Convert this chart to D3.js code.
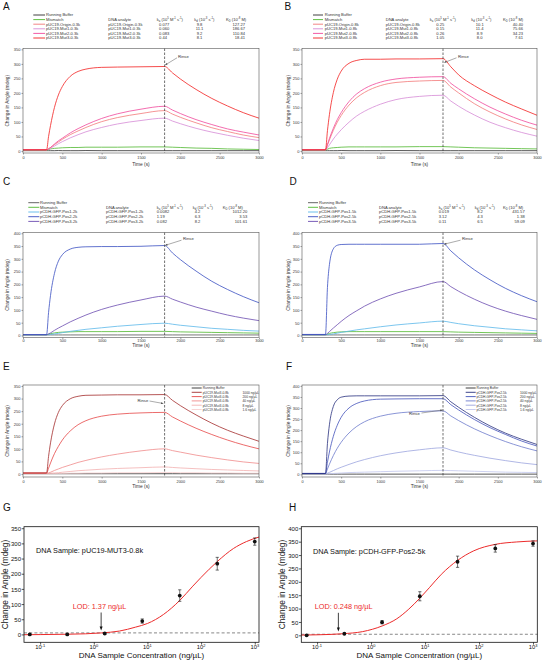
<!DOCTYPE html>
<html><head><meta charset="utf-8">
<script src="https://cdn.jsdelivr.net/npm/d3@7"></script>
<style>body{margin:0;background:#fff}svg{display:block}</style>
</head><body>
<svg id="chart" width="546" height="661" xmlns="http://www.w3.org/2000/svg"></svg>
<script>
// ================= DATA =================
const T = [0,300,325,350,400,450,500,600,700,800,1000,1200,1500,1800,1900,2000,2200,2400,2600,2800,3000];
const timeTicks = [0,500,1000,1500,2000,2500,3000];
const yTicks350 = [0,50,100,150,200,250,300,350];
const yTicks400 = [0,50,100,150,200,250,300,350,400];

// Panel A
const aNames = ['Running Buffer','Mismatch','pUC19-Origin-0.3k','pUC19-Mut1-0.3k','pUC19-Mut2-0.3k','pUC19-Mut3-0.3k'];
const aRB   = [1,1,1,1,1,1.5,1,1,1,1.5,1,1,1,1,1,1,1,1,1,1,1];
const aMis  = [3,3,5,7,9,10,11,12,12,13,13,13,14,14,13,12,10,9,7,6,5];
const aOri  = [4,4,7,12,22,31,40,56,69,81,101,115,129,139,127,116,97,80,67,55,46];
const aMut1 = [4,4,6,9,17,25,32,45,56,66,81,93,105,113,103,94,78,65,54,44,36];
const aMut2 = [4,4,8,12,24,35,44,62,77,90,112,128,144,154,141,129,108,91,76,65,55];
const aMut3 = [4,4,50,88,150,193,222,257,274,282,288,289,290,291,269,248,212,181,155,132,113];
const aKa = ['0.077','0.060','0.083','0.44'];
const aKd = ['9.8','11.1','9.2','8.1'];
const aKD = ['127.27','186.67','110.84','18.41'];

// Panel B
const bNames = ['Running Buffer','Mismatch','pUC19-Origin-0.8k','pUC19-Mut1-0.8k','pUC19-Mut2-0.8k','pUC19-Mut3-0.8k'];
const bRB   = [1,1,1,1,1,1,1.5,1,1,1,1,1.5,1,1,1,1,1,1,1,1,1];
const bMis  = [3,3,6,9,11,12,13,14,14,14,14,14,15,15,14,13,11,10,9,8,7];
const bOri  = [4,4,20,38,71,99,122,158,184,202,225,236,241,243,220,200,163,134,110,90,74];
const bMut1 = [4,4,11,21,41,58,73,99,121,137,161,177,188,192,172,154,124,99,80,64,51];
const bMut2 = [4,4,23,43,78,108,132,170,197,215,237,248,254,256,233,214,180,151,127,106,89];
const bMut3 = [4,4,70,125,201,247,275,302,312,316,316,317,317,318,290,262,225,195,168,145,123];
const bKa = ['0.25','0.15','0.26','1.05'];
const bKd = ['10.1','11.4','8.9','8.0'];
const bKD = ['40.40','75.66','34.23','7.61'];

// Panel C
const cNames = ['Running Buffer','Mismatch','pCDH-GFP-Pos1-2k','pCDH-GFP-Pos2-2k','pCDH-GFP-Pos3-2k'];
const cRB   = [2,2,2,2,2,2,2,2,2,2,2,2,2,2,2,2,2,2,2,2,2];
const cMis  = [3,3,5,7,10,12,13,14,15,15,15,15,16,16,15,14,13,12,11,10,9];
const cPos1 = [3,3,3,4,6,8,11,16,20,24,30,36,43,48,44,40,34,28,24,20,17];
const cPos2 = [3,3,90,157,243,291,316,338,345,347,348,348,349,352,323,297,252,212,180,152,128];
const cPos3 = [3,3,6,10,20,29,37,53,67,80,102,119,139,154,142,131,111,95,80,68,58];
const cKa = ['0.0082','1.19','0.082'];
const cKd = ['4.2','6.3','8.2'];
const cKD = ['1012.20','3.53','101.61'];

// Panel D
const dNames = ['Running Buffer','Mismatch','pCDH-GFP-Pos1-5k','pCDH-GFP-Pos2-5k','pCDH-GFP-Pos3-5k'];
const dRB   = [2,2,2,2,2,2,2,2,2,2,2,2,2,2,2,2,2,2,2,2,2];
const dMis  = [3,3,5,8,11,13,14,15,15,15,15,15,15,15,14,13,12,11,10,9,8];
const dPos1 = [3,3,3,4,6,9,12,17,22,26,34,41,49,56,51,46,38,32,26,22,18];
const dPos2 = [4,4,188,277,339,353,356,357,357,357,357,357,357,360,331,304,257,218,184,156,132];
const dPos3 = [3,3,8,15,29,42,55,78,97,115,143,165,190,211,191,173,142,116,95,78,63];
const dKa = ['0.019','3.12','0.11'];
const dKd = ['8.2','4.3','6.5'];
const dKD = ['431.57','1.38','59.09'];

// Panel E
const concLabels = ['1000 ng/µL','200 ng/µL','40 ng/µL','8 ng/µL','1.6 ng/µL'];
const eSample = 'pUC19-Mut3-0.8k';
const eRB    = [1,1,1,1,1,1,1,1,1,1,1,1,1,1,1,1,1,1,1,1,1];
const e1000  = [4,4,70,124,199,245,272,299,309,313,314,315,315,316,293,272,235,202,174,151,130];
const e200   = [4,4,23,44,81,110,135,171,196,212,230,238,243,245,227,211,182,157,135,116,100];
const e40    = [3,3,4,7,14,20,26,36,46,54,68,79,92,100,93,87,75,65,56,48,42];
const e8     = [2,2,2,3,4,5,7,10,13,15,19,22,25,28,26,24,21,18,16,14,12];
const e16    = [1,1,1,1,2,2,2,3,3,4,4,5,5,6,6,5,5,4,4,3,3];

// Panel F
const fSample = 'pCDH-GFP-Pos2-5k';
const fRB    = [1,1,1,1,1,1,1,1,1,1,1,1,1,1,1,1,1,1,1,1,1];
const f1000  = [4,4,140,224,307,337,349,354,355,355,355,355,355,356,328,303,258,219,186,159,135];
const f200   = [4,4,55,101,172,222,258,300,321,332,340,341,342,342,315,291,248,211,180,151,128];
const f40    = [4,4,24,46,85,118,145,187,217,238,263,276,284,287,264,243,206,175,148,125,106];
const f8     = [3,3,5,9,17,25,32,45,57,67,84,97,111,120,110,101,86,73,62,52,44];
const f16    = [2,2,2,3,4,5,6,8,9,10,12,14,16,18,17,16,14,12,10,9,8];

// Panels G / H
const conc = [0.064,0.32,1.6,8,40,200,1000];
const gMean = [0,0,3,44,128,233,306];
const gErr  = [2,2,3,7,19,21,12];
const gFit  = [[0.05,-1],[0.1,-0.5],[0.3,0.5],[0.7,2],[1.4,5],[3,11],[6,24],[10,36],[20,66],[40,112],[70,159],[100,188],[200,240],[400,283],[700,306],[1200,321]];
const hMean = [0,6,49,146,275,325,343];
const hErr  = [2,3,6,17,21,14,10];
const hFit  = [[0.051,1],[0.1,2],[0.3,6],[0.7,14],[1.6,35],[3,62],[5,98],[8,139],[12,178],[20,228],[40,280],[80,316],[200,340],[500,349],[1200,353]];
const logTicks = [0.1,1,10,100,1000];
const logTickExp = ['-1','0','1','2','3'];

// ================= DRAWING =================
const FONT = '"Liberation Sans", Arial, Helvetica, sans-serif';
const svg = d3.select('#chart').attr('font-family', FONT);
const TXT = '#222';

const col = {
  rb:'#2b2b2b', rbC:'#555555', mis:'#4fb82e',
  ori:'#f27878', mut1:'#d68ad6', mut2:'#f0479b', mut3:'#f21f1f',
  pos1:'#5bb8ea', pos2:'#3a4fc2', pos3:'#6b4bb0',
  e:['#a32c2c','#e64646','#f08a8a','#f3b0b0','#f7cfcf'],
  f:['#28307e','#4252ba','#6c7acc','#9ca4de','#c2c6ee'],
  red:'#ec2b2b'
};

function richText(g, x, y, parts, fs, anchor, fill) {
  const t = g.append('text').attr('x', x).attr('y', y).attr('font-size', fs)
    .attr('text-anchor', anchor || 'start').attr('fill', fill || TXT);
  let shift = 0;
  parts.forEach(([s, type]) => {
    const target = type === 'sup' ? -fs * 0.38 : type === 'sub' ? fs * 0.25 : 0;
    const ts = t.append('tspan').attr('dy', target - shift).text(s);
    if (type !== 'n') ts.attr('font-size', fs * 0.68);
    shift = target;
  });
  return t;
}

function panelLetter(ch, x, y) {
  svg.append('text').attr('x', x).attr('y', y).attr('font-size', 10).attr('fill', '#111').text(ch);
}

function sensorPanel(p) {
  const g = svg.append('g');
  const x = d3.scaleLinear().domain([0, 3000]).range([p.x0, p.x1]);
  const y = d3.scaleLinear().domain(p.yDom).range([p.yB, p.yT]);

  const xa = g.append('g').attr('transform', `translate(0,${p.yB})`)
    .call(d3.axisBottom(x).tickValues(timeTicks).tickSize(1.5).tickFormat(d3.format('d')));
  xa.select('.domain').remove();
  xa.selectAll('line').attr('stroke', '#444').attr('stroke-width', 0.5);
  xa.selectAll('text').attr('font-size', 3.8).attr('font-family', FONT).attr('fill', '#333')
    .attr('y', p.xLabY - p.yB).attr('dy', 0);

  const ya = g.append('g').attr('transform', `translate(${p.x0},0)`)
    .call(d3.axisLeft(y).tickValues(p.yTicks).tickSize(1.5));
  ya.select('.domain').remove();
  ya.selectAll('line').attr('stroke', '#444').attr('stroke-width', 0.5);
  ya.selectAll('text').attr('font-size', 4).attr('font-family', FONT).attr('fill', '#333')
    .attr('x', -2.6).attr('dy', '0.35em');

  g.append('text').attr('x', (p.x0 + p.x1) / 2).attr('y', p.xTitleY).attr('text-anchor', 'middle')
    .attr('font-size', 4.8).attr('fill', '#333').text('Time (s)');
  g.append('text').attr('transform', `translate(${p.yTitleX},${(p.yT + p.yB) / 2}) rotate(-90)`)
    .attr('text-anchor', 'middle').attr('dy', '0.35em').attr('font-size', 4.8).attr('fill', '#333')
    .text('Change in Angle (mdeg)');

  const line = d3.line().x((d, i) => x(T[i])).y(d => y(d)).curve(d3.curveMonotoneX);
  p.series.forEach(s => {
    g.append('path').datum(s.v).attr('d', line).attr('fill', 'none')
      .attr('stroke', s.c).attr('stroke-width', s.w || 0.8).attr('stroke-linejoin', 'round');
  });

  g.append('line').attr('x1', x(1800)).attr('x2', x(1800)).attr('y1', p.yT).attr('y2', p.yB)
    .attr('stroke', '#333').attr('stroke-width', 0.7).attr('stroke-dasharray', '2.5,1.5');

  g.append('rect').attr('x', p.x0).attr('y', p.yT).attr('width', p.x1 - p.x0).attr('height', p.yB - p.yT)
    .attr('fill', 'none').attr('stroke', '#555').attr('stroke-width', 0.6);

  const r = p.rinse;
  g.append('text').attr('x', r.tx).attr('y', r.ty).attr('font-size', 4.2).attr('fill', '#333').text('Rinse');
  g.append('line').attr('x1', r.lx1).attr('y1', r.ly1).attr('x2', r.lx2).attr('y2', r.ly2)
    .attr('stroke', '#444').attr('stroke-width', 0.45);
  const ang = Math.atan2(r.ly2 - r.ly1, r.lx2 - r.lx1);
  const ah = 2.2, aw = 0.9;
  const pts = [[r.lx2, r.ly2],
    [r.lx2 - ah * Math.cos(ang) + aw * Math.sin(ang), r.ly2 - ah * Math.sin(ang) - aw * Math.cos(ang)],
    [r.lx2 - ah * Math.cos(ang) - aw * Math.sin(ang), r.ly2 - ah * Math.sin(ang) + aw * Math.cos(ang)]];
  g.append('polygon').attr('points', pts.map(q => q.join(',')).join(' ')).attr('fill', '#444');

  if (p.legend) {
    const L = p.legend;
    L.items.forEach((it, i) => {
      const ry = L.rows[i];
      g.append('line').attr('x1', L.lx1).attr('x2', L.lx2).attr('y1', ry).attr('y2', ry)
        .attr('stroke', it.c).attr('stroke-width', 0.9);
      g.append('text').attr('x', L.tx).attr('y', ry + 1.4).attr('font-size', L.fs).attr('fill', '#333').text(it.name);
      if (it.conc) g.append('text').attr('x', L.cx).attr('y', ry + 1.4).attr('font-size', L.fs).attr('fill', '#333').text(it.conc);
    });
  }
  if (p.table) {
    const Tb = p.table, fs = p.legend.fs;
    const hy = p.legend.rows[1] + 1.4;
    g.append('text').attr('x', Tb.ax).attr('y', hy).attr('font-size', fs).attr('fill', '#333').text('DNA analyte');
    richText(g, Tb.kaH, hy, [['k','n'],['a','sub'],[' (10','n'],['5','sup'],[' M','n'],['-1','sup'],[' s','n'],['-1','sup'],[')','n']], fs, 'start', '#333');
    richText(g, Tb.kdH, hy, [['k','n'],['d','sub'],[' (10','n'],['-3','sup'],[' s','n'],['-1','sup'],[')','n']], fs, 'start', '#333');
    richText(g, Tb.KDH, hy, [['K','n'],['D','sub'],[' (10','n'],['-8','sup'],[' M)','n']], fs, 'start', '#333');
    Tb.names.forEach((nm, i) => {
      const ry = p.legend.rows[i + 2] + 1.4;
      g.append('text').attr('x', Tb.ax).attr('y', ry).attr('font-size', fs).attr('fill', '#333').text(nm);
      g.append('text').attr('x', Tb.kaX).attr('y', ry).attr('font-size', fs).attr('fill', '#333').text(Tb.ka[i]);
      g.append('text').attr('x', Tb.kdC).attr('y', ry).attr('font-size', fs).attr('fill', '#333').attr('text-anchor', 'middle').text(Tb.kd[i]);
      g.append('text').attr('x', Tb.KDR).attr('y', ry).attr('font-size', fs).attr('fill', '#333').attr('text-anchor', 'end').text(Tb.KD[i]);
    });
  }
}

const rowsAB = [15, 19.6, 24.2, 28.8, 33.4, 38];
const rowsCD = [202.7, 207.3, 212, 216.7, 221.4];
const rowsEF = [388, 392.3, 396.6, 400.9, 405.2, 409.5];

panelLetter('A', 3, 10);
sensorPanel({
  x0: 23, x1: 259, yT: 48.5, yB: 153, yDom: [-7, 353], yTicks: yTicks350,
  xLabY: 159, xTitleY: 165.6, yTitleX: 7.5,
  series: [{v: aRB, c: col.rb}, {v: aMis, c: col.mis}, {v: aMut1, c: col.mut1}, {v: aOri, c: col.ori}, {v: aMut2, c: col.mut2}, {v: aMut3, c: col.mut3}],
  rinse: {tx: 178, ty: 57.6, lx1: 177, ly1: 57.8, lx2: 165.2, ly2: 65},
  legend: {rows: rowsAB, lx1: 33.3, lx2: 45, tx: 46, fs: 4.1,
    items: aNames.map((n, i) => ({name: n, c: [col.rb, col.mis, col.ori, col.mut1, col.mut2, col.mut3][i]}))},
  table: {names: aNames.slice(2), ka: aKa, kd: aKd, KD: aKD, ax: 108.3, kaH: 156.7, kaX: 159, kdH: 194.3, kdC: 199.5, KDH: 226, KDR: 245}
});

panelLetter('B', 284.5, 10);
sensorPanel({
  x0: 302, x1: 537, yT: 48.5, yB: 153, yDom: [-7, 353], yTicks: yTicks350,
  xLabY: 159, xTitleY: 165.6, yTitleX: 288,
  series: [{v: bRB, c: col.rb}, {v: bMis, c: col.mis}, {v: bMut1, c: col.mut1}, {v: bOri, c: col.ori}, {v: bMut2, c: col.mut2}, {v: bMut3, c: col.mut3}],
  rinse: {tx: 458, ty: 57.6, lx1: 456.5, ly1: 57.8, lx2: 444.3, ly2: 62.5},
  legend: {rows: rowsAB, lx1: 313, lx2: 323, tx: 324.7, fs: 4.1,
    items: bNames.map((n, i) => ({name: n, c: [col.rb, col.mis, col.ori, col.mut1, col.mut2, col.mut3][i]}))},
  table: {names: bNames.slice(2), ka: bKa, kd: bKd, KD: bKD, ax: 385.7, kaH: 429.7, kaX: 436.3, kdH: 471.3, kdC: 479.7, KDH: 503, KDR: 523}
});

panelLetter('C', 3, 185);
sensorPanel({
  x0: 23, x1: 259, yT: 232.5, yB: 337.5, yDom: [-8, 403], yTicks: yTicks400,
  xLabY: 341.7, xTitleY: 346.8, yTitleX: 7.5,
  series: [{v: cRB, c: col.rbC}, {v: cMis, c: col.mis}, {v: cPos1, c: col.pos1}, {v: cPos3, c: col.pos3}, {v: cPos2, c: col.pos2}],
  rinse: {tx: 183, ty: 240, lx1: 181.5, ly1: 240.2, lx2: 165.3, ly2: 245.3},
  legend: {rows: rowsCD, lx1: 28.3, lx2: 39.3, tx: 40, fs: 4.1,
    items: cNames.map((n, i) => ({name: n, c: [col.rbC, col.mis, col.pos1, col.pos2, col.pos3][i]}))},
  table: {names: cNames.slice(2), ka: cKa, kd: cKd, KD: cKD, ax: 106, kaH: 156.7, kaX: 156.7, kdH: 192.7, kdC: 197.5, KDH: 222.7, KDR: 247.3}
});

panelLetter('D', 289.5, 185);
sensorPanel({
  x0: 302, x1: 537, yT: 232.5, yB: 337.5, yDom: [-8, 403], yTicks: yTicks400,
  xLabY: 341.7, xTitleY: 346.8, yTitleX: 288,
  series: [{v: dRB, c: col.rbC}, {v: dMis, c: col.mis}, {v: dPos1, c: col.pos1}, {v: dPos3, c: col.pos3}, {v: dPos2, c: col.pos2}],
  rinse: {tx: 462, ty: 240, lx1: 460.5, ly1: 240.2, lx2: 444.2, ly2: 244.2},
  legend: {rows: rowsCD, lx1: 308, lx2: 318, tx: 319, fs: 4.1,
    items: dNames.map((n, i) => ({name: n, c: [col.rbC, col.mis, col.pos1, col.pos2, col.pos3][i]}))},
  table: {names: dNames.slice(2), ka: dKa, kd: dKd, KD: dKD, ax: 379, kaH: 438.7, kaX: 438.7, kdH: 474.7, kdC: 480, KDH: 503, KDR: 524.7}
});

panelLetter('E', 3, 370);
sensorPanel({
  x0: 23, x1: 259, yT: 385, yB: 477, yDom: [-12, 354], yTicks: yTicks350,
  xLabY: 483.2, xTitleY: 488, yTitleX: 7.5,
  series: [{v: eRB, c: col.rb}, {v: e16, c: col.e[4]}, {v: e8, c: col.e[3]}, {v: e40, c: col.e[2]}, {v: e200, c: col.e[1]}, {v: e1000, c: col.e[0]}],
  rinse: {tx: 137.5, ty: 402, lx1: 149.5, ly1: 401, lx2: 163.3, ly2: 403.5},
  legend: {rows: rowsEF, lx1: 191.7, lx2: 201.7, tx: 202.7, cx: 242.5, fs: 3.3,
    items: [{name: 'Running Buffer', c: col.rb}].concat(concLabels.map((cl, i) => ({name: eSample, conc: cl, c: col.e[i]})))}
});

panelLetter('F', 286, 370);
sensorPanel({
  x0: 302, x1: 537, yT: 385, yB: 477, yDom: [-12, 404], yTicks: yTicks400,
  xLabY: 483.2, xTitleY: 488, yTitleX: 288,
  series: [{v: fRB, c: col.rb}, {v: f16, c: col.f[4]}, {v: f8, c: col.f[3]}, {v: f40, c: col.f[2]}, {v: f200, c: col.f[1]}, {v: f1000, c: col.f[0]}],
  rinse: {tx: 409, ty: 414.5, lx1: 421.5, ly1: 413, lx2: 442.5, ly2: 410},
  legend: {rows: rowsEF, lx1: 465.7, lx2: 475.7, tx: 476.5, cx: 520, fs: 3.3,
    items: [{name: 'Running Buffer', c: col.rb}].concat(concLabels.map((cl, i) => ({name: fSample, conc: cl, c: col.f[i]})))}
});

function dosePanel(p) {
  const g = svg.append('g');
  const x = d3.scaleLog().domain(p.xDom).range([p.x0, p.x1]);
  const y = d3.scaleLinear().domain(p.yDom).range([p.yB, p.yT]);

  const ya = g.append('g').attr('transform', `translate(${p.x0},0)`)
    .call(d3.axisLeft(y).tickValues(p.yTicks).tickSize(2.3));
  ya.select('.domain').remove();
  ya.selectAll('line').attr('stroke', '#111').attr('stroke-width', 0.7);
  ya.selectAll('text').attr('font-size', 6).attr('font-family', FONT).attr('fill', '#111')
    .attr('x', -3).attr('dy', '0.35em');

  const xa = g.append('g').attr('transform', `translate(0,${p.yB})`)
    .call(d3.axisBottom(x).tickValues(logTicks).tickSize(2.3).tickFormat(''));
  xa.select('.domain').remove();
  xa.selectAll('line').attr('stroke', '#111').attr('stroke-width', 0.7);
  logTicks.forEach((v, i) => {
    richText(g, x(v), p.xLabY, [['10', 'n'], [logTickExp[i], 'sup']], 5.8, 'middle', '#111');
  });

  g.append('text').attr('x', (p.x0 + p.x1) / 2).attr('y', p.xTitleY).attr('text-anchor', 'middle')
    .attr('font-size', 8).attr('fill', '#111').text('DNA Sample Concentration (ng/µL)');
  g.append('text').attr('transform', `translate(${p.yTitleX},${(p.yT + p.yB) / 2}) rotate(-90)`)
    .attr('text-anchor', 'middle').attr('dy', '0.35em').attr('font-size', 8.3).attr('fill', '#111')
    .text('Change in Angle (mdeg)');

  g.append('line').attr('x1', p.x0).attr('x2', p.x1).attr('y1', y(p.base)).attr('y2', y(p.base))
    .attr('stroke', '#555').attr('stroke-width', 0.7).attr('stroke-dasharray', '3,2.2');

  g.append('path').datum(p.fit)
    .attr('d', d3.line().x(d => x(d[0])).y(d => y(d[1])).curve(d3.curveMonotoneX))
    .attr('fill', 'none').attr('stroke', col.red).attr('stroke-width', 1);

  conc.forEach((c, i) => {
    const cx = x(c), m = p.mean[i], e = p.err[i];
    g.append('line').attr('x1', cx).attr('x2', cx).attr('y1', y(m - e)).attr('y2', y(m + e))
      .attr('stroke', '#111').attr('stroke-width', 0.6);
    [m - e, m + e].forEach(v => g.append('line').attr('x1', cx - 1.6).attr('x2', cx + 1.6)
      .attr('y1', y(v)).attr('y2', y(v)).attr('stroke', '#111').attr('stroke-width', 0.6));
    g.append('circle').attr('cx', cx).attr('cy', y(m)).attr('r', 1.9).attr('fill', '#111');
  });

  const ax = x(p.lod);
  g.append('line').attr('x1', ax).attr('x2', ax).attr('y1', p.arrowY1).attr('y2', p.arrowY2 - 3)
    .attr('stroke', '#111').attr('stroke-width', 0.8);
  g.append('polygon').attr('points', `${ax},${p.arrowY2} ${ax - 1.5},${p.arrowY2 - 4} ${ax + 1.5},${p.arrowY2 - 4}`)
    .attr('fill', '#111');
  g.append('text').attr('x', p.lodX).attr('y', p.lodY).attr('font-size', 7.3).attr('fill', col.red).text(p.lodText);
  g.append('text').attr('x', p.sX).attr('y', p.sY).attr('font-size', 7.3).attr('fill', '#111').text(p.sample);

  g.append('rect').attr('x', p.x0).attr('y', p.yT).attr('width', p.x1 - p.x0).attr('height', p.yB - p.yT)
    .attr('fill', 'none').attr('stroke', '#111').attr('stroke-width', 0.8);
}

panelLetter('G', 3, 511);
dosePanel({
  x0: 24, x1: 259, yT: 526.7, yB: 642.3, xDom: [0.05, 1200], yDom: [-26, 355], yTicks: yTicks350,
  xLabY: 649, xTitleY: 658, yTitleX: 5,
  mean: gMean, err: gErr, fit: gFit, base: 5, lod: 1.37,
  arrowY1: 612.5, arrowY2: 630.5,
  lodText: 'LOD: 1.37 ng/µL', lodX: 72.7, lodY: 608.8,
  sample: 'DNA Sample: pUC19-MUT3-0.8k', sX: 36, sY: 553.3
});

panelLetter('H', 289, 510.5);
dosePanel({
  x0: 301.3, x1: 537.3, yT: 526.7, yB: 642.3, xDom: [0.051, 1200], yDom: [-26, 406], yTicks: yTicks400,
  xLabY: 649, xTitleY: 658, yTitleX: 282.5,
  mean: hMean, err: hErr, fit: hFit, base: 4, lod: 0.248,
  arrowY1: 612.8, arrowY2: 631.5,
  lodText: 'LOD: 0.248 ng/µL', lodX: 314.7, lodY: 609,
  sample: 'DNA Sample: pCDH-GFP-Pos2-5k', sX: 313, sY: 554.3
});
</script>
</body></html>
